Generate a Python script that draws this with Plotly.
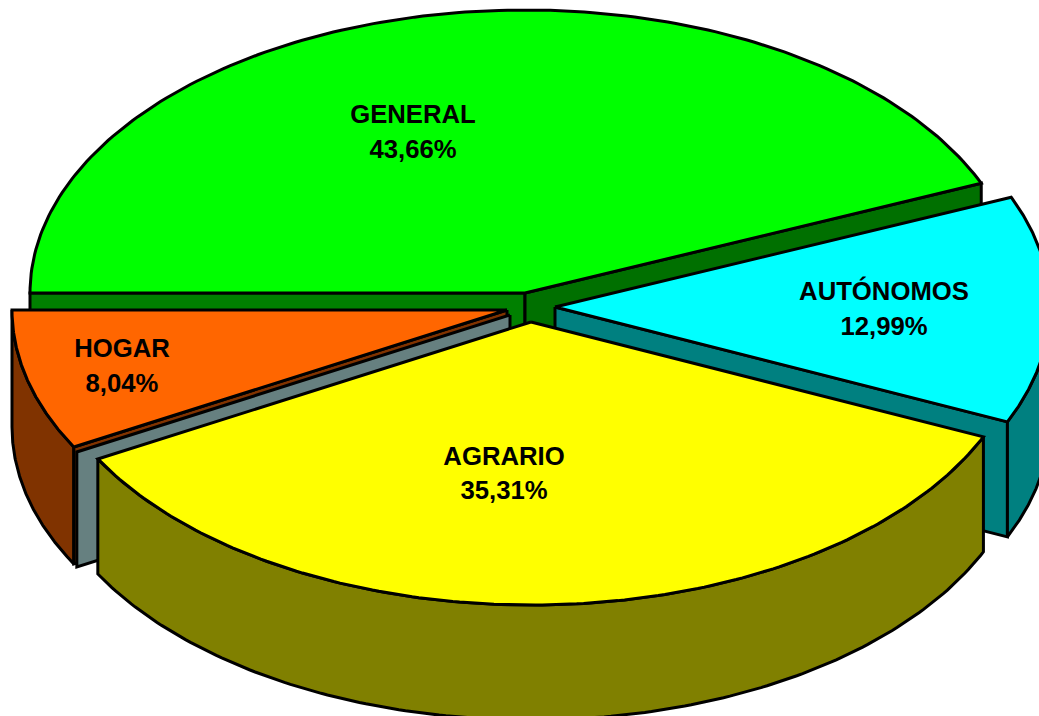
import numpy as np
import plotly.graph_objects as go

# Data
categories = ["GENERAL", "AUTÓNOMOS", "AGRARIO", "", "HOGAR"]
shares = [43.66, 12.99, 35.31, 0.0, 8.04]
share_labels = ["43,66%", "12,99%", "35,31%", "", "8,04%"]

# Styles
top_colors = ["#00FF00", "#00FFFF", "#FFFF00", "#668080", "#FF6600"]
side_colors = ["#008000", "#008080", "#808000", "#668080", "#803300"]
GENERAL_RIGHT_WALL = "#007000"

# Geometry of the projected pie
RX, RY = 495, 283
centers = {
    "GENERAL": (525, 293),
    "AUTÓNOMOS": (555, 307),
    "AGRARIO": (531, 322),
    "": (510, 315),
    "HOGAR": (507, 310),
}
depths = {"GENERAL": 114, "AUTÓNOMOS": 115, "AGRARIO": 115, "": 115, "HOGAR": 117}
START_ANGLE = 180.0
label_pos = {
    "GENERAL": (413, 117, 152),
    "AUTÓNOMOS": (884, 294, 329),
    "AGRARIO": (504, 459, 493),
    "HOGAR": (122, 351, 386),
}

# Angular extents from the shares (clockwise from the left)
bounds = START_ANGLE - np.cumsum([0] + shares) * 3.6
extent = {c: (bounds[i], bounds[i + 1]) for i, c in enumerate(categories)}


def rim(cat, a0, a1, dy=0):
    cx, cy = centers[cat]
    t = np.radians(np.linspace(a0, a1, 160))
    return cx + RX * np.cos(t), cy - RY * np.sin(t) + dy


def poly(fig, x, y, color):
    fig.add_trace(go.Scatter(
        x=np.append(x, x[0]), y=np.append(y, y[0]), mode="lines", fill="toself",
        fillcolor=color, line=dict(color="black", width=3),
        hoverinfo="skip", showlegend=False))


def top(fig, cat, color):
    a0, a1 = extent[cat]
    cx, cy = centers[cat]
    x, y = rim(cat, a0, a1)
    poly(fig, np.concatenate([[cx], x]), np.concatenate([[cy], y]), color)


def radial_wall(fig, cat, angle, color):
    cx, cy = centers[cat]
    x, y = rim(cat, angle, angle)
    ex, ey = x[0], y[0]
    d = depths[cat]
    poly(fig, np.array([cx, ex, ex, cx]), np.array([cy, ey, ey + d, cy + d]), color)


def rim_wall(fig, cat, a0, a1, color):
    x, y = rim(cat, a0, a1)
    xb, yb = rim(cat, a0, a1, depths[cat])
    poly(fig, np.concatenate([x, xb[::-1]]), np.concatenate([y, yb[::-1]]), color)


fig = go.Figure()
col = dict(zip(categories, top_colors))
side = dict(zip(categories, side_colors))

# back to front
radial_wall(fig, "GENERAL", extent["GENERAL"][0], side["GENERAL"])
radial_wall(fig, "GENERAL", extent["GENERAL"][1], GENERAL_RIGHT_WALL)
top(fig, "GENERAL", col["GENERAL"])

rim_wall(fig, "HOGAR", extent["HOGAR"][0], extent["HOGAR"][1], side["HOGAR"])
radial_wall(fig, "HOGAR", extent["HOGAR"][0], side["HOGAR"])
radial_wall(fig, "", extent[""][0], side[""])
top(fig, "HOGAR", col["HOGAR"])

radial_wall(fig, "AUTÓNOMOS", extent["AUTÓNOMOS"][1], side["AUTÓNOMOS"])
rim_wall(fig, "AUTÓNOMOS", extent["AUTÓNOMOS"][0] - 22.82, extent["AUTÓNOMOS"][1], side["AUTÓNOMOS"])
top(fig, "AUTÓNOMOS", col["AUTÓNOMOS"])

rim_wall(fig, "AGRARIO", extent["AGRARIO"][0], extent["AGRARIO"][1], side["AGRARIO"])
top(fig, "AGRARIO", col["AGRARIO"])

# labels
text_x, text_y, text_s = [], [], []
for c, lab in zip(categories, share_labels):
    if not c:
        continue
    lx, y1, y2 = label_pos[c]
    text_x += [lx, lx]
    text_y += [y1, y2]
    text_s += [c, lab]
fig.add_trace(go.Scatter(
    x=text_x, y=text_y, text=text_s, mode="text", textposition="middle center",
    textfont=dict(family="Liberation Sans, Arial, sans-serif", size=25.7, color="black", weight="bold"),
    hoverinfo="skip", showlegend=False))

fig.update_layout(
    width=1039, height=716, margin=dict(l=0, r=0, t=0, b=0),
    paper_bgcolor="white", plot_bgcolor="white",
    xaxis=dict(range=[0, 1039], visible=False, fixedrange=True),
    yaxis=dict(range=[716, 0], visible=False, fixedrange=True),
)
fig.write_html("out.html", config={"displayModeBar": False},
               post_script="document.body.style.margin='0';document.body.style.overflow='hidden';")
